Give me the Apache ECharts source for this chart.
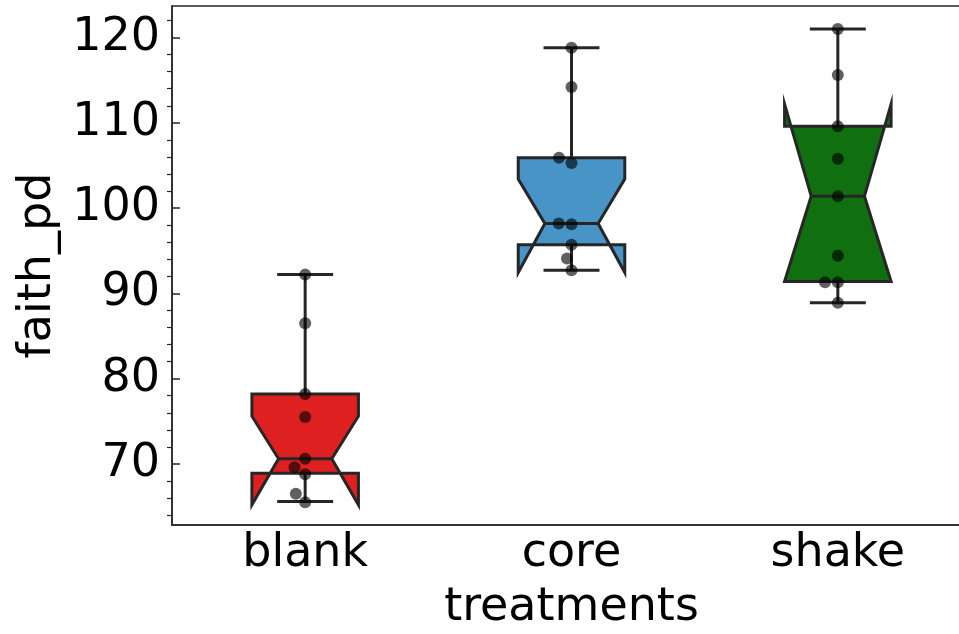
<!DOCTYPE html>
<html>
<head>
<meta charset="utf-8">
<script src="https://cdn.jsdelivr.net/npm/echarts@6/dist/echarts.min.js"></script>
<style>
  html, body { margin: 0; padding: 0; background: #fff; overflow: hidden; }
  #chart { width: 980px; height: 634px; }
</style>
</head>
<body>
<div id="chart"></div>
<script>
  // box statistics
  const categories = ['blank', 'core', 'shake'];
  const whiskerLow = [65.6, 92.7, 88.9];
  const q1 = [68.9, 95.7, 91.4];
  const median = [70.6, 98.2, 101.4];
  const q3 = [78.2, 105.9, 109.6];
  const whiskerHigh = [92.2, 118.8, 121.0];
  const notchLow = [65.2, 92.45, 91.4];
  const notchHigh = [75.6, 103.4, 112.2];

  // individual samples (strip plot) and their small horizontal jitter
  const blankPoints = [92.2, 86.5, 78.2, 75.5, 70.6, 69.6, 68.8, 66.5, 65.5];
  const blankJitter = [0, 0, 0, 0, 0, -0.04, 0, -0.035, 0];
  const corePoints = [118.8, 114.2, 105.9, 105.3, 98.2, 98.1, 95.7, 94.1, 92.7];
  const coreJitter = [0, 0, -0.047, 0, -0.048, 0, 0, -0.017, 0];
  const shakePoints = [121.0, 115.6, 109.6, 105.8, 101.4, 94.4, 91.3, 91.3, 88.9];
  const shakeJitter = [0, 0, 0, 0, 0, 0, -0.048, 0, 0];

  const majorTicks = [70, 80, 90, 100, 110, 120];
  const minorTicks = [64, 66, 68, 72, 74, 76, 78, 82, 84, 86, 88, 92, 94, 96, 98,
                      102, 104, 106, 108, 112, 114, 116, 118, 122];

  const boxColors = ['#df2020', '#4994c6', '#107010'];
  const edge = '#262626';
  const font = 'DejaVu Sans';

  const boxData = categories.map((c, i) =>
    [i, whiskerLow[i], q1[i], median[i], q3[i], whiskerHigh[i], notchLow[i], notchHigh[i]]);

  const pointSets = [[blankPoints, blankJitter], [corePoints, coreJitter], [shakePoints, shakeJitter]];
  const pointData = [];
  pointSets.forEach(([vals, jit], i) => {
    vals.forEach((v, k) => pointData.push([i + jit[k], v]));
  });

  const halfW = 0.2, capW = 0.105;

  function renderBox(params, api) {
    const x = api.value(0);
    const wl = api.value(1), lo = api.value(2), med = api.value(3), hi = api.value(4);
    const wh = api.value(5), nlo = api.value(6), nhi = api.value(7);
    const p = (dx, y) => api.coord([x + dx, y]);
    const color = boxColors[params.dataIndex];
    const lineStyle = { stroke: edge, lineWidth: 3 };
    const pts = [
      p(-halfW, lo), p(halfW, lo), p(halfW, nlo), p(halfW / 2, med), p(halfW, nhi),
      p(halfW, hi), p(-halfW, hi), p(-halfW, nhi), p(-halfW / 2, med), p(-halfW, nlo)
    ];
    const line = (a, b) => ({
      type: 'line',
      shape: { x1: a[0], y1: a[1], x2: b[0], y2: b[1] },
      style: lineStyle
    });
    return {
      type: 'group',
      children: [
        line(p(0, hi), p(0, wh)),
        line(p(0, lo), p(0, wl)),
        line(p(-capW, wh), p(capW, wh)),
        line(p(-capW, wl), p(capW, wl)),
        {
          type: 'polygon',
          shape: { points: pts },
          style: { fill: color, stroke: edge, lineWidth: 3, lineJoin: 'miter' }
        },
        line(p(-halfW / 2, med), p(halfW / 2, med))
      ]
    };
  }

  const chart = echarts.init(document.getElementById('chart'));
  chart.setOption({
    backgroundColor: '#fff',
    animation: false,
    grid: {
      left: 172, top: 6, width: 799, height: 519,
      outerBoundsMode: 'none',
      containLabel: false,
      show: true, borderColor: edge, borderWidth: 1.5
    },
    xAxis: [{
      type: 'category',
      data: categories,
      boundaryGap: true,
      axisLine: { onZero: false, lineStyle: { color: edge, width: 1.5 } },
      axisTick: { inside: true, length: 8, alignWithLabel: true, lineStyle: { color: edge, width: 1.5 } },
      axisLabel: { fontSize: 46, fontFamily: font, color: '#000', margin: 6 },
      name: 'treatments',
      nameLocation: 'middle',
      nameGap: 60,
      nameTextStyle: { fontSize: 46, fontFamily: font, color: '#000' }
    }, {
      type: 'value',
      min: -0.5,
      max: 2.5,
      show: false,
      axisLine: { onZero: false }
    }],
    yAxis: [{
      type: 'value',
      min: 62.84,
      max: 123.7,
      axisLine: { show: true, onZero: false, lineStyle: { color: edge, width: 1.5 } },
      axisTick: { show: true, inside: true, length: 8, customValues: majorTicks, lineStyle: { color: edge, width: 1.5 } },
      axisLabel: { customValues: majorTicks, fontSize: 46, fontFamily: font, color: '#000', margin: 12 },
      splitLine: { show: false },
      name: 'faith_pd',
      nameLocation: 'middle',
      nameRotate: 90,
      nameGap: 110,
      nameTextStyle: { fontSize: 46, fontFamily: font, color: '#000' }
    }, {
      type: 'value',
      min: 62.84,
      max: 123.7,
      position: 'left',
      axisLine: { show: false, onZero: false },
      axisTick: { show: true, inside: false, length: 5, customValues: minorTicks, lineStyle: { color: edge, width: 1.2 } },
      axisLabel: { show: false },
      splitLine: { show: false }
    }],
    series: [{
      type: 'custom',
      xAxisIndex: 1,
      yAxisIndex: 0,
      renderItem: renderBox,
      encode: { x: 0, y: [1, 2, 3, 4, 5, 6, 7] },
      data: boxData,
      z: 2
    }, {
      type: 'scatter',
      xAxisIndex: 1,
      yAxisIndex: 0,
      data: pointData,
      symbolSize: 12,
      itemStyle: { color: 'rgba(0,0,0,0.78)' },
      z: 3
    }]
  });
</script>
</body>
</html>
